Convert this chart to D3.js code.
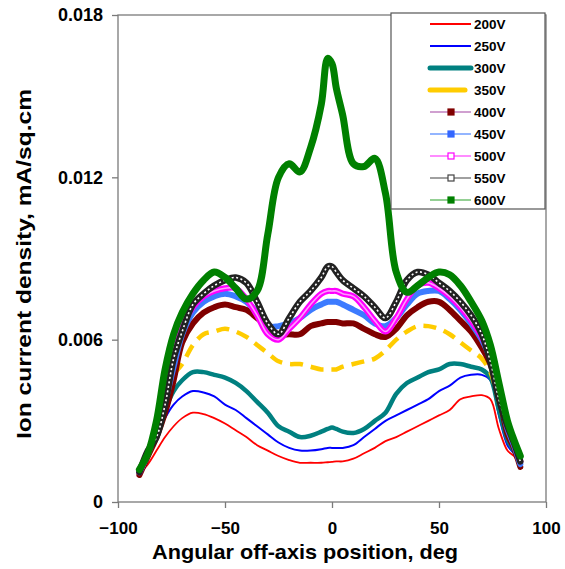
<!DOCTYPE html>
<html><head><meta charset="utf-8">
<script src="https://cdn.jsdelivr.net/npm/d3@7/dist/d3.min.js"></script>
<style>
html,body{margin:0;padding:0;background:#fff;}
svg{display:block;font-family:"Liberation Sans",Arial,sans-serif;}
</style></head>
<body>
<svg id="chart" width="565" height="569"></svg>
<script>
const angles = [-90,-86,-82,-78,-74,-70,-65,-60,-55,-50,-45,-40,-35,-30,-25,-20,-15,-10,-5,-2,0,2,5,10,15,20,25,30,35,40,45,50,55,60,65,70,74,78,82,85,88];

const v200 = [0.00105,0.0014,0.0019,0.0024,0.0028,0.0031,0.0033,0.00325,0.0031,0.0029,0.00265,0.0024,0.0021,0.0019,0.0017,0.00155,0.00145,0.00145,0.00145,0.00147,0.00148,0.0015,0.0015,0.0016,0.0018,0.002,0.00225,0.0024,0.0026,0.0028,0.003,0.0032,0.0034,0.0038,0.0039,0.00395,0.0038,0.0027,0.0019,0.0017,0.0013];
const v250 = [0.0011,0.0016,0.0024,0.0031,0.0036,0.0039,0.0041,0.00405,0.0039,0.0036,0.0034,0.0031,0.0028,0.0025,0.0022,0.002,0.0019,0.0019,0.00195,0.002,0.002,0.002,0.002,0.0021,0.0024,0.0027,0.003,0.0032,0.0034,0.0036,0.0038,0.0041,0.0043,0.0046,0.0047,0.0047,0.0045,0.0032,0.0021,0.0018,0.0014];
const v300 = [0.0012,0.0017,0.0026,0.0034,0.0041,0.0045,0.0048,0.0048,0.0047,0.0046,0.0044,0.0041,0.0037,0.0033,0.0028,0.0026,0.0024,0.00245,0.0026,0.0027,0.00275,0.0027,0.0026,0.00255,0.0027,0.003,0.0033,0.004,0.0044,0.0046,0.0048,0.0049,0.0051,0.0051,0.005,0.0049,0.0046,0.0034,0.0023,0.0019,0.0015];
const v350 = [0.0011,0.0017,0.0029,0.004,0.0047,0.0051,0.0058,0.0062,0.0063,0.0064,0.0063,0.0061,0.0058,0.0055,0.0052,0.0051,0.0051,0.005,0.0049,0.0049,0.0049,0.0049,0.005,0.0051,0.0052,0.0053,0.0056,0.006,0.0063,0.0065,0.0065,0.0064,0.0062,0.0059,0.0056,0.0053,0.0048,0.0037,0.0026,0.002,0.0014];
const v400 = [0.001,0.0017,0.0024,0.0033,0.0045,0.0059,0.0066,0.007,0.0072,0.0073,0.0072,0.0071,0.0068,0.0065,0.0062,0.0062,0.0062,0.0065,0.0066,0.00665,0.00665,0.00665,0.0066,0.0066,0.0064,0.0062,0.0061,0.0064,0.0069,0.0072,0.0074,0.0074,0.0071,0.0067,0.0063,0.0057,0.0051,0.004,0.0025,0.002,0.0013];
const v450 = [0.0011,0.0018,0.0026,0.0037,0.005,0.0062,0.007,0.0074,0.0076,0.0077,0.0076,0.0074,0.007,0.0065,0.0065,0.0066,0.0068,0.0071,0.0073,0.0074,0.0074,0.0074,0.0073,0.0071,0.0069,0.0066,0.0065,0.0068,0.0073,0.0077,0.0078,0.0078,0.0075,0.0071,0.0066,0.006,0.0053,0.0041,0.0027,0.0021,0.0014];
const v500 = [0.0011,0.0018,0.0028,0.004,0.0053,0.0065,0.0072,0.0076,0.0078,0.0079,0.0079,0.0075,0.0069,0.0062,0.006,0.0064,0.0068,0.0073,0.0077,0.0078,0.0078,0.0078,0.0077,0.0076,0.0072,0.0067,0.0063,0.0068,0.0075,0.008,0.0081,0.0079,0.0076,0.0072,0.0067,0.0061,0.0054,0.0042,0.0028,0.0022,0.0015];
const v550 = [0.0011,0.0019,0.0024,0.0036,0.0053,0.0063,0.0073,0.0077,0.008,0.0082,0.0083,0.0081,0.0074,0.0066,0.0062,0.0068,0.0074,0.0078,0.0083,0.0087,0.0087,0.0085,0.0082,0.0079,0.0076,0.0072,0.0068,0.0074,0.0082,0.0085,0.0084,0.0081,0.0078,0.0074,0.0069,0.0062,0.0052,0.0038,0.0028,0.0022,0.0015];
const v600 = [0.0012,0.0018,0.003,0.0049,0.0062,0.007,0.0077,0.0082,0.0085,0.0083,0.0079,0.0075,0.0078,0.0099,0.012,0.0125,0.0122,0.0131,0.0147,0.0164,0.0162,0.0153,0.0143,0.0125,0.0124,0.0127,0.0114,0.0085,0.00775,0.008,0.0083,0.0085,0.0084,0.008,0.0074,0.0067,0.0058,0.0044,0.003,0.0023,0.0017];

const seriesNames = ["200V","250V","300V","350V","400V","450V","500V","550V","600V"];
const seriesValues = [v200,v250,v300,v350,v400,v450,v500,v550,v600];
const xTicks = [-100,-50,0,50,100];
const yTicks = [0,0.006,0.012,0.018];

const styles = [
  {color:"#ff0000", w:1.8},
  {color:"#0000ff", w:2},
  {color:"#008080", w:4.5},
  {color:"#ffcc00", w:4.5, dash:"13,8"},
  {color:"#800000", w:6, lcol:"#c080c0", marker:"#800000", mfill:"#800000"},
  {color:"#3d7bff", w:6, lcol:"#6f9cff", marker:"#3366ff", mfill:"#3366ff"},
  {color:"#ff00ff", w:6, lcol:"#ff66ff", marker:"#ff00ff", mfill:"#ffffff", inner:"#ff9cff"},
  {color:"#222222", w:6.5, lcol:"#808080", marker:"#444444", mfill:"#ffffff", inner:"#ffffff", innerDash:"2,2.5"},
  {color:"#008000", w:7, lcol:"#70c070", marker:"#008000", mfill:"#008000"}
];

const svg = d3.select("#chart");
const L=118, R=546, T=15, B=502;
const x = d3.scaleLinear().domain([-100,100]).range([L,R]);
const y = d3.scaleLinear().domain([0,0.018]).range([B,T]);
const axisCol = "#7a7a7a";

svg.append("rect").attr("x",L).attr("y",T).attr("width",R-L).attr("height",B-T)
  .attr("fill","none").attr("stroke",axisCol).attr("stroke-width",1.3);

const line = d3.line().x((d,i)=>x(angles[i])).y(d=>y(d)).curve(d3.curveCatmullRom.alpha(0.5));

seriesValues.forEach((vals,k)=>{
  const s = styles[k];
  svg.append("path").attr("d",line(vals)).attr("fill","none")
    .attr("stroke",s.color).attr("stroke-width",s.w)
    .attr("stroke-linejoin","round").attr("stroke-linecap", s.dash?"butt":"round")
    .attr("stroke-dasharray", s.dash||null);
  if(s.inner){
    svg.append("path").attr("d",line(vals)).attr("fill","none")
      .attr("stroke",s.inner).attr("stroke-width",1.6)
      .attr("stroke-dasharray", s.innerDash||null);
  }
});

const yAxis = d3.axisLeft(y).tickValues(yTicks).tickSize(6).tickPadding(9)
  .tickFormat(d=> d===0 ? "0" : d3.format(".3f")(d));
const gy = svg.append("g").attr("transform",`translate(${L},0)`).call(yAxis);
gy.select(".domain").remove();
gy.selectAll(".tick line").attr("stroke",axisCol).attr("stroke-width",1.3);
gy.selectAll(".tick text").attr("fill","#000").style("font-size","18px").style("font-weight","bold")
  .style("font-family","'Liberation Sans',Arial,sans-serif");

const xAxis = d3.axisBottom(x).tickValues(xTicks).tickSize(6).tickPadding(14).tickFormat(d3.format("d"));
const gx = svg.append("g").attr("transform",`translate(0,${B})`).call(xAxis);
gx.select(".domain").remove();
gx.selectAll(".tick line").attr("stroke",axisCol).attr("stroke-width",1.3);
gx.selectAll(".tick text").attr("fill","#000").style("font-size","17px").style("font-weight","bold")
  .style("font-family","'Liberation Sans',Arial,sans-serif");

svg.append("text").attr("x",305).attr("y",559).attr("text-anchor","middle")
  .attr("textLength",306).attr("lengthAdjust","spacingAndGlyphs")
  .style("font-size","21px").style("font-weight","bold").text("Angular off-axis position, deg");
svg.append("text").attr("transform","translate(31,264) rotate(-90)").attr("text-anchor","middle")
  .attr("textLength",350).attr("lengthAdjust","spacingAndGlyphs")
  .style("font-size","21px").style("font-weight","bold").text("Ion current density, mA/sq.cm");

const lg = svg.append("g");
lg.append("rect").attr("x",391).attr("y",13).attr("width",154).attr("height",196)
  .attr("fill","#fff").attr("stroke","#555").attr("stroke-width",1.2);
seriesNames.forEach((name,k)=>{
  const s = styles[k];
  const cy = 24 + k*22;
  const x1 = 430, x2 = (k===3) ? 465 : 471;
  lg.append("line").attr("x1",x1).attr("x2",x2).attr("y1",cy).attr("y2",cy)
    .attr("stroke", s.lcol || s.color)
    .attr("stroke-width", s.lcol ? 1.6 : (k<2 ? 2 : 5))
    .attr("stroke-linecap", k===2||k===3 ? "round":"butt");
  if(s.marker){
    lg.append("rect").attr("x",448).attr("y",cy-3).attr("width",6).attr("height",6)
      .attr("fill",s.mfill).attr("stroke",s.marker).attr("stroke-width",1.2);
  }
  lg.append("text").attr("x",474).attr("y",cy+5).style("font-size","13.5px")
    .style("font-weight","bold").text(name);
});
</script>
</body></html>
